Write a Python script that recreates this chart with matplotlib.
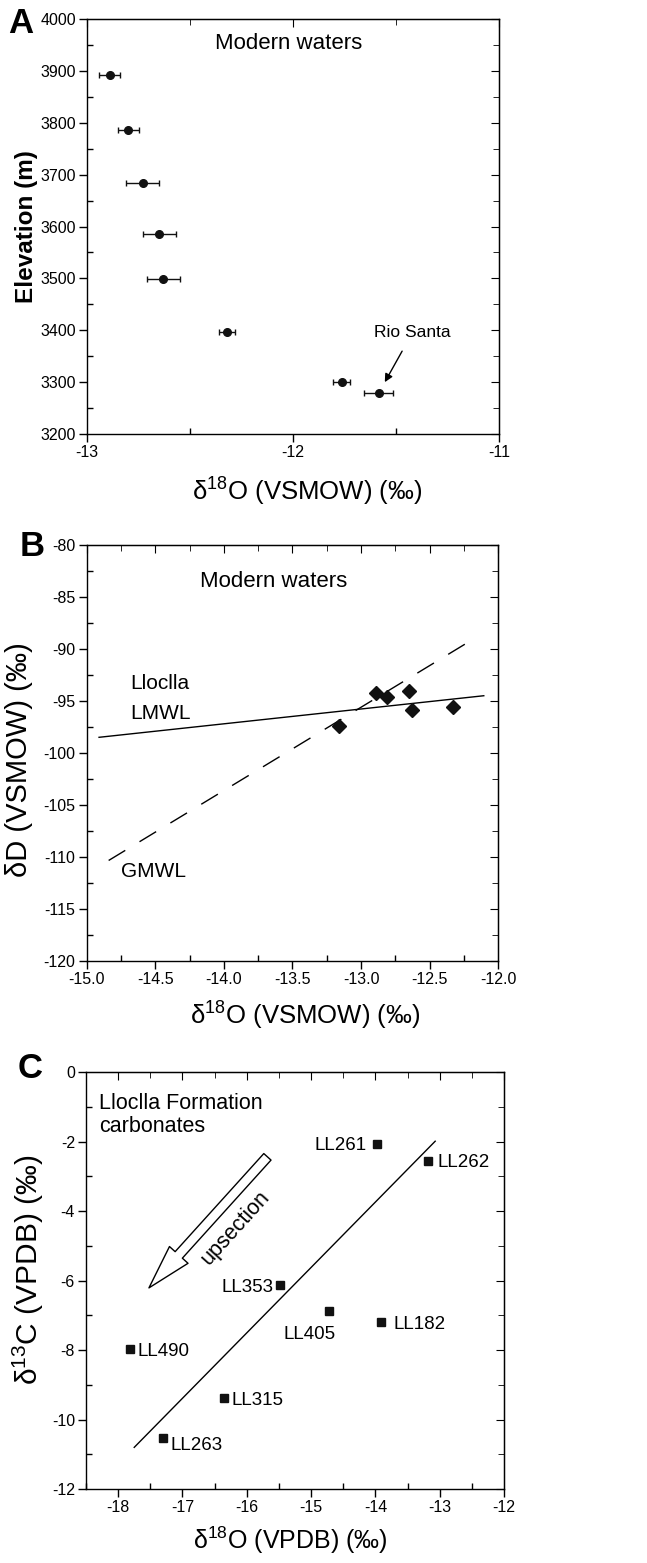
import matplotlib
matplotlib.use("Agg")
import matplotlib.pyplot as plt
from matplotlib.ticker import MultipleLocator, FormatStrFormatter
from matplotlib.patches import FancyArrowPatch

plt.rcParams['font.family'] = ['Liberation Sans', 'DejaVu Sans']
plt.rcParams['mathtext.default'] = 'regular'
plt.rcParams['axes.unicode_minus'] = False

# Panel A: elevation vs d18O of modern waters
a_d18o = [-12.89, -12.80, -12.73, -12.65, -12.63, -12.32, -11.765, -11.585]
a_elev = [3893, 3786, 3684, 3585, 3499, 3396, 3301, 3280]
a_err = [0.05, 0.05, 0.08, 0.08, 0.08, 0.04, 0.04, 0.07]

# Panel B: dD vs d18O of modern waters
b_d18o = [-13.16, -12.89, -12.81, -12.65, -12.63, -12.33]
b_dd = [-97.4, -94.2, -94.6, -94.0, -95.9, -95.6]
lmwl_x = [-14.91, -12.105]
lmwl_y = [-98.5, -94.5]
gmwl_x = [-14.84, -12.2]
gmwl_y = [-110.35, -89.2]

# Panel C: Lloclla Formation carbonates
c_names = ['LL261', 'LL262', 'LL353', 'LL405', 'LL182', 'LL490', 'LL315', 'LL263']
c_d18o = [-13.98, -13.18, -15.48, -14.72, -13.91, -17.81, -16.36, -17.30]
c_d13c = [-2.06, -2.56, -6.14, -6.89, -7.19, -7.97, -9.37, -10.54]
trend_x = [-17.75, -13.07]
trend_y = [-10.80, -1.99]

fig = plt.figure(figsize=(6.47, 15.63), dpi=100)


def style_axes(ax):
    for s in ax.spines.values():
        s.set_linewidth(1.0)
    ax.tick_params(which='major', direction='out', length=6, width=1,
                   labelsize=11.5, pad=2)
    ax.tick_params(which='minor', direction='in', length=4, width=1)
    ax.tick_params(which='both', top=False, right=False)
    # mirrored inward ticks on top and right
    axr = ax.secondary_yaxis('right')
    axr.set_yticks(ax.get_yticks(minor=False))
    axr.tick_params(which='both', direction='in', length=6, labelright=False)
    axr.yaxis.set_minor_locator(ax.yaxis.get_minor_locator())
    axr.tick_params(which='minor', direction='in', length=4)
    axt = ax.secondary_xaxis('top')
    axt.set_xticks(ax.get_xticks(minor=False))
    axt.tick_params(which='both', direction='in', length=6, labeltop=False)
    axt.xaxis.set_minor_locator(ax.xaxis.get_minor_locator())
    axt.tick_params(which='minor', direction='in', length=4)


# ---- Panel A ----
axA = fig.add_axes([0.1345, 0.7223, 0.637, 0.2655])
axA.errorbar(a_d18o, a_elev, xerr=a_err, fmt='o', color='#111111',
             ms=5.5, capsize=2.5, elinewidth=1, capthick=1)
axA.set_xlim(-13, -11)
axA.set_ylim(3200, 4000)
axA.xaxis.set_major_locator(MultipleLocator(1))
axA.xaxis.set_minor_locator(MultipleLocator(0.5))
axA.yaxis.set_major_locator(MultipleLocator(100))
axA.yaxis.set_minor_locator(MultipleLocator(50))
style_axes(axA)
axA.set_xlabel('δ$^{18}$O (VSMOW) (‰)', fontsize=18.5)
axA.xaxis.set_label_coords(0.535, -0.1)
axA.set_ylabel('Elevation (m)', fontsize=17.5, fontweight='bold')
axA.yaxis.set_label_coords(-0.118, 0.5)
axA.text(-12.02, 3953, 'Modern waters', fontsize=16, ha='center', va='center')
axA.annotate('Rio Santa', xy=(-11.555, 3300), xytext=(-11.42, 3396),
             fontsize=12.5, ha='center', va='center',
             arrowprops=dict(arrowstyle='-|>', color='black', lw=1,
                             shrinkA=7, shrinkB=0, mutation_scale=12))
fig.text(0.012, 0.9955, 'A', fontsize=25, fontweight='bold', va='top', ha='left')

# ---- Panel B ----
axB = fig.add_axes([0.134, 0.3853, 0.636, 0.266])
axB.plot(lmwl_x, lmwl_y, color='black', lw=1)
axB.plot(gmwl_x, gmwl_y, color='black', lw=1, dashes=(14, 12))
axB.plot(b_d18o, b_dd, 'D', color='#111111', ms=7)
axB.set_xlim(-15, -12)
axB.set_ylim(-120, -80)
axB.xaxis.set_major_locator(MultipleLocator(0.5))
axB.xaxis.set_minor_locator(MultipleLocator(0.25))
axB.xaxis.set_major_formatter(FormatStrFormatter('%.1f'))
axB.yaxis.set_major_locator(MultipleLocator(5))
axB.yaxis.set_minor_locator(MultipleLocator(2.5))
style_axes(axB)
axB.set_xlabel('δ$^{18}$O (VSMOW) (‰)', fontsize=18.5)
axB.xaxis.set_label_coords(0.53, -0.095)
axB.set_ylabel('δD (VSMOW) (‰)', fontsize=21)
axB.yaxis.set_label_coords(-0.13, 0.483)
axB.text(-13.64, -83.5, 'Modern waters', fontsize=16, ha='center', va='center')
axB.text(-14.68, -93.3, 'Lloclla', fontsize=15, ha='left', va='center')
axB.text(-14.68, -96.2, 'LMWL', fontsize=15, ha='left', va='center')
axB.text(-14.75, -111.4, 'GMWL', fontsize=15, ha='left', va='center')
fig.text(0.030, 0.6610, 'B', fontsize=25, fontweight='bold', va='top', ha='left')

# ---- Panel C ----
axC = fig.add_axes([0.1329, 0.0473, 0.6461, 0.2668])
axC.plot(trend_x, trend_y, color='black', lw=1)
axC.plot(c_d18o, c_d13c, 's', color='#111111', ms=6)
axC.set_xlim(-18.5, -12)
axC.set_ylim(-12, 0)
axC.xaxis.set_major_locator(MultipleLocator(1))
axC.xaxis.set_minor_locator(MultipleLocator(0.5))
axC.yaxis.set_major_locator(MultipleLocator(2))
axC.yaxis.set_minor_locator(MultipleLocator(1))
style_axes(axC)
axC.set_xlabel('δ$^{18}$O (VPDB) (‰)', fontsize=18)
axC.xaxis.set_label_coords(0.488, -0.085)
axC.set_ylabel('δ$^{13}$C (VPDB) (‰)', fontsize=21.5)
axC.yaxis.set_label_coords(-0.096, 0.525)

label_pos = {
    'LL261': (-14.13, -2.1, 'right'),
    'LL262': (-13.03, -2.6, 'left'),
    'LL353': (-15.59, -6.2, 'right'),
    'LL405': (-15.03, -7.56, 'center'),
    'LL182': (-13.72, -7.25, 'left'),
    'LL490': (-17.70, -8.04, 'left'),
    'LL315': (-16.24, -9.46, 'left'),
    'LL263': (-17.18, -10.76, 'left'),
}
for name in c_names:
    lx, ly, ha = label_pos[name]
    axC.text(lx, ly, name, fontsize=13.5, ha=ha, va='center')

axC.text(-18.3, -0.6, 'Lloclla Formation\ncarbonates', fontsize=15.5,
         ha='left', va='top', linespacing=1.15)

arrow = FancyArrowPatch((-15.65, -2.38), (-17.55, -6.27),
                        arrowstyle='simple,head_length=32,head_width=18,tail_width=7',
                        mutation_scale=1, fc='white', ec='black', lw=1)
axC.add_patch(arrow)
axC.text(-16.18, -4.49, 'upsection', fontsize=15.5, rotation=48,
         rotation_mode='anchor', ha='center', va='center')
fig.text(0.027, 0.3272, 'C', fontsize=25, fontweight='bold', va='top', ha='left')

fig.savefig('out.png', dpi=100)
